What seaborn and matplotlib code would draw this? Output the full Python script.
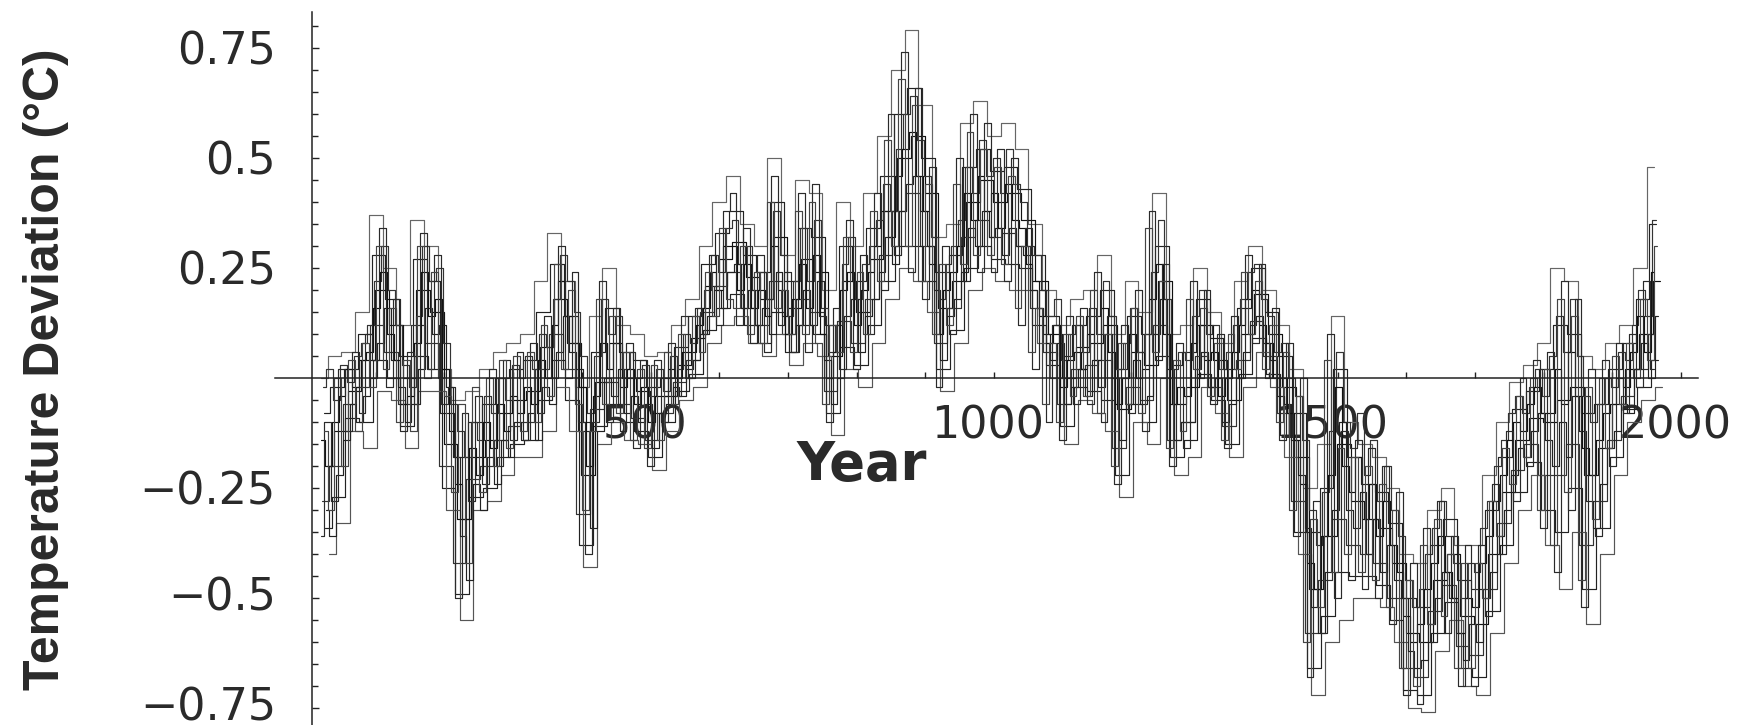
import pandas as pd
import matplotlib.pyplot as plt
import matplotlib.transforms as mtrans
import seaborn as sns

# Values: six traces with a reading every 20 years
years = list(range(20, 1961, 20))

recon_a = [0.00, 0.05, 0.06, 0.15, 0.37, 0.25, 0.12, 0.36, 0.30, 0.02,
           -0.05, -0.03, 0.02, 0.06, 0.08, 0.10, 0.22, 0.33, 0.22, -0.02,
           0.14, 0.25, 0.12, 0.10, 0.05, 0.06, 0.12, 0.18, 0.30, 0.40,
           0.46, 0.35, 0.30, 0.50, 0.28, 0.45, 0.42, 0.20, 0.40, 0.30,
           0.42, 0.55, 0.70, 0.79, 0.62, 0.32, 0.35, 0.58, 0.63, 0.55,
           0.58, 0.52, 0.35, 0.20, 0.12, 0.18, 0.20, 0.28, 0.10, 0.22,
           0.15, 0.42, 0.10, 0.12, 0.25, 0.15, 0.08, 0.22, 0.30, 0.20,
           0.12, 0.02, -0.25, -0.15, 0.14, -0.10, -0.15, -0.18, -0.25, -0.40,
           -0.42, -0.30, -0.25, -0.38, -0.38, -0.22, -0.10, -0.01, 0.03, 0.08,
           0.25, 0.22, 0.05, 0.02, 0.08, 0.12, 0.25, 0.48]
recon_b = [-0.08, -0.02, 0.02, 0.10, 0.28, 0.18, 0.05, 0.27, 0.22, -0.08,
           -0.18, -0.10, -0.06, 0.00, 0.02, 0.04, 0.15, 0.26, 0.14, -0.12,
           0.06, 0.16, 0.06, 0.04, -0.02, 0.00, 0.07, 0.14, 0.26, 0.33,
           0.38, 0.28, 0.24, 0.40, 0.22, 0.34, 0.32, 0.12, 0.30, 0.22,
           0.34, 0.46, 0.60, 0.66, 0.50, 0.24, 0.28, 0.48, 0.52, 0.47,
           0.48, 0.43, 0.28, 0.14, 0.05, 0.12, 0.14, 0.20, 0.02, 0.14,
           0.10, 0.30, 0.03, 0.06, 0.18, 0.09, 0.02, 0.16, 0.25, 0.15,
           0.05, -0.08, -0.35, -0.25, 0.02, -0.18, -0.24, -0.26, -0.33, -0.50,
           -0.52, -0.38, -0.32, -0.46, -0.48, -0.30, -0.18, -0.07, -0.03, 0.02,
           0.12, 0.10, -0.08, -0.06, 0.02, 0.08, 0.18, 0.35]
recon_c = [-0.20, -0.12, -0.03, 0.04, 0.20, 0.12, 0.00, 0.20, 0.15, -0.15,
           -0.32, -0.18, -0.14, -0.08, -0.05, -0.03, 0.07, 0.18, 0.08, -0.22,
           -0.01, 0.08, 0.00, -0.03, -0.08, -0.04, 0.03, 0.09, 0.21, 0.27,
           0.31, 0.23, 0.18, 0.32, 0.16, 0.27, 0.24, 0.05, 0.22, 0.15,
           0.27, 0.38, 0.50, 0.55, 0.42, 0.16, 0.22, 0.40, 0.45, 0.40,
           0.42, 0.36, 0.22, 0.10, 0.00, 0.07, 0.08, 0.12, -0.07, 0.06,
           0.03, 0.22, -0.06, -0.02, 0.12, 0.04, -0.05, 0.10, 0.19, 0.10,
           -0.02, -0.18, -0.48, -0.36, -0.15, -0.28, -0.32, -0.34, -0.42, -0.58,
           -0.60, -0.46, -0.40, -0.54, -0.56, -0.40, -0.26, -0.14, -0.09, -0.10,
           -0.05, -0.02, -0.22, -0.16, -0.06, 0.02, 0.10, 0.22]
recon_d = [-0.28, -0.20, -0.06, -0.02, 0.12, 0.06, -0.06, 0.12, 0.08, -0.20,
           -0.42, -0.23, -0.20, -0.14, -0.11, -0.10, 0.02, 0.10, 0.02, -0.31,
           -0.07, -0.01, -0.06, -0.09, -0.14, -0.08, -0.01, 0.04, 0.15, 0.21,
           0.24, 0.16, 0.12, 0.22, 0.10, 0.18, 0.15, -0.03, 0.13, 0.08,
           0.18, 0.28, 0.38, 0.42, 0.30, 0.08, 0.16, 0.32, 0.36, 0.32,
           0.33, 0.30, 0.16, 0.06, -0.06, 0.02, 0.03, 0.04, -0.16, -0.02,
           -0.05, 0.12, -0.14, -0.10, 0.05, -0.02, -0.11, 0.04, 0.13, 0.05,
           -0.08, -0.28, -0.58, -0.46, -0.32, -0.38, -0.40, -0.42, -0.50, -0.66,
           -0.68, -0.53, -0.47, -0.61, -0.63, -0.48, -0.33, -0.21, -0.15, -0.22,
           -0.22, -0.15, -0.38, -0.28, -0.14, -0.04, 0.02, 0.10]
recon_e = [-0.34, -0.27, -0.09, -0.10, 0.04, 0.00, -0.11, 0.05, 0.02, -0.25,
           -0.49, -0.27, -0.25, -0.18, -0.15, -0.14, -0.05, 0.04, -0.05, -0.38,
           -0.11, -0.06, -0.10, -0.12, -0.18, -0.10, -0.03, 0.01, 0.11, 0.16,
           0.19, 0.12, 0.08, 0.15, 0.06, 0.12, 0.10, -0.08, 0.07, 0.03,
           0.12, 0.22, 0.30, 0.30, 0.22, 0.02, 0.11, 0.25, 0.30, 0.27,
           0.26, 0.25, 0.12, 0.03, -0.11, -0.02, -0.03, -0.05, -0.22, -0.06,
           -0.10, 0.05, -0.18, -0.14, 0.01, -0.05, -0.15, 0.01, 0.09, 0.01,
           -0.13, -0.35, -0.66, -0.54, -0.44, -0.45, -0.45, -0.47, -0.55, -0.71,
           -0.72, -0.58, -0.51, -0.66, -0.68, -0.53, -0.38, -0.26, -0.19, -0.30,
           -0.35, -0.25, -0.48, -0.34, -0.18, -0.07, -0.02, 0.04]
recon_f = [-0.40, -0.33, -0.12, -0.16, -0.03, -0.05, -0.16, -0.03, -0.03, -0.30,
           -0.55, -0.30, -0.28, -0.22, -0.18, -0.18, -0.12, -0.02, -0.12, -0.43,
           -0.15, -0.10, -0.14, -0.15, -0.21, -0.12, -0.05, -0.02, 0.08, 0.12,
           0.14, 0.08, 0.05, 0.10, 0.03, 0.08, 0.05, -0.13, 0.02, -0.02,
           0.08, 0.18, 0.25, 0.22, 0.15, -0.03, 0.08, 0.20, 0.25, 0.22,
           0.20, 0.20, 0.08, 0.00, -0.15, -0.05, -0.08, -0.12, -0.27, -0.10,
           -0.15, 0.00, -0.22, -0.18, -0.02, -0.08, -0.18, -0.02, 0.06, -0.02,
           -0.18, -0.40, -0.72, -0.60, -0.55, -0.50, -0.50, -0.52, -0.60, -0.75,
           -0.76, -0.62, -0.55, -0.70, -0.72, -0.58, -0.42, -0.30, -0.22, -0.38,
           -0.48, -0.35, -0.56, -0.40, -0.22, -0.10, -0.05, -0.02]

# Finer traces, a reading every 10 years
years_fine = list(range(20, 1961, 10))

recon_g = [-0.02, 0.02, -0.05, 0.03, -0.01, 0.05, 0.08, 0.12, 0.22, 0.30,
           0.20, 0.12, 0.03, -0.02, 0.14, 0.30, 0.22, 0.25, 0.08, -0.06,
           -0.12, -0.18, -0.10, -0.14, -0.04, -0.08, 0.00, -0.05, 0.03, 0.00,
           0.05, 0.02, 0.10, 0.07, 0.18, 0.28, 0.22, 0.15, 0.05, -0.08,
           0.05, 0.18, 0.10, 0.14, 0.02, 0.06, 0.00, 0.03, -0.04, 0.02,
           -0.03, 0.05, 0.02, 0.10, 0.08, 0.16, 0.20, 0.28, 0.24, 0.34,
           0.36, 0.26, 0.30, 0.20, 0.24, 0.18, 0.38, 0.28, 0.14, 0.22,
           0.34, 0.22, 0.36, 0.16, 0.06, 0.12, 0.26, 0.32, 0.18, 0.26,
           0.30, 0.36, 0.44, 0.38, 0.52, 0.60, 0.64, 0.54, 0.46, 0.32,
           0.18, 0.26, 0.30, 0.36, 0.48, 0.42, 0.54, 0.46, 0.50, 0.42,
           0.52, 0.44, 0.40, 0.30, 0.28, 0.20, 0.14, 0.18, 0.04, 0.10,
           0.12, 0.06, 0.16, 0.10, 0.22, 0.14, 0.02, 0.08, 0.16, 0.06,
           0.10, 0.24, 0.36, 0.18, 0.02, 0.06, 0.04, 0.14, 0.20, 0.10,
           0.12, 0.02, 0.06, 0.12, 0.18, 0.24, 0.26, 0.18, 0.14, 0.06,
           0.08, 0.00, -0.04, -0.14, -0.30, -0.38, -0.26, -0.12, 0.06, -0.10,
           -0.16, -0.08, -0.22, -0.14, -0.28, -0.20, -0.30, -0.36, -0.46, -0.52,
           -0.48, -0.40, -0.34, -0.28, -0.36, -0.42, -0.50, -0.42, -0.44, -0.34,
           -0.28, -0.20, -0.14, -0.08, -0.04, -0.08, -0.02, 0.02, -0.04, 0.05,
           0.14, 0.06, 0.18, 0.05, -0.04, -0.10, -0.06, 0.00, -0.02, 0.06,
           0.04, 0.12, 0.20, 0.14, 0.36]
recon_h = [-0.30, -0.36, -0.22, -0.14, -0.06, -0.10, -0.04, 0.00, 0.08, 0.16,
           0.04, -0.02, -0.10, -0.06, 0.02, 0.16, 0.10, 0.12, -0.02, -0.18,
           -0.36, -0.46, -0.24, -0.30, -0.18, -0.24, -0.14, -0.18, -0.10, -0.14,
           -0.08, -0.14, -0.02, -0.06, 0.06, 0.14, 0.06, 0.02, -0.10, -0.34,
           -0.12, 0.00, -0.04, 0.02, -0.08, -0.04, -0.10, -0.06, -0.16, -0.08,
           -0.06, -0.02, -0.04, 0.02, 0.04, 0.10, 0.14, 0.20, 0.16, 0.24,
           0.26, 0.16, 0.20, 0.12, 0.16, 0.10, 0.24, 0.14, 0.06, 0.12,
           0.20, 0.12, 0.22, 0.04, -0.06, 0.00, 0.14, 0.18, 0.06, 0.14,
           0.18, 0.24, 0.32, 0.26, 0.38, 0.44, 0.46, 0.38, 0.30, 0.20,
           0.04, 0.14, 0.18, 0.24, 0.34, 0.30, 0.38, 0.32, 0.34, 0.28,
           0.34, 0.30, 0.28, 0.20, 0.16, 0.10, 0.04, 0.08, -0.06, -0.02,
           0.02, -0.04, 0.04, -0.02, 0.10, 0.00, -0.14, -0.06, 0.04, -0.06,
           -0.04, 0.10, 0.18, 0.02, -0.14, -0.10, -0.10, 0.02, 0.06, -0.02,
           0.00, -0.10, -0.06, 0.00, 0.06, 0.12, 0.14, 0.08, 0.04, -0.04,
           -0.06, -0.14, -0.22, -0.34, -0.52, -0.58, -0.44, -0.30, -0.10, -0.30,
           -0.34, -0.26, -0.40, -0.32, -0.44, -0.38, -0.46, -0.50, -0.62, -0.66,
           -0.64, -0.56, -0.50, -0.44, -0.50, -0.58, -0.64, -0.56, -0.60, -0.50,
           -0.44, -0.36, -0.30, -0.22, -0.16, -0.18, -0.12, -0.08, -0.14, -0.20,
           -0.10, -0.18, -0.04, -0.12, -0.28, -0.34, -0.24, -0.16, -0.12, -0.06,
           -0.08, 0.02, 0.08, 0.00, 0.14]
recon_i = [-0.14, -0.20, -0.10, -0.04, 0.02, -0.02, 0.04, 0.06, 0.16, 0.24,
           0.10, 0.04, -0.06, -0.04, 0.08, 0.24, 0.14, 0.18, 0.02, -0.12,
           -0.24, -0.32, -0.16, -0.22, -0.10, -0.16, -0.06, -0.12, -0.04, -0.08,
           -0.02, -0.06, 0.04, 0.00, 0.12, 0.22, 0.14, 0.08, -0.02, -0.20,
           -0.04, 0.08, 0.02, 0.08, -0.02, 0.02, -0.06, -0.02, -0.10, -0.04,
           -0.04, 0.02, 0.00, 0.06, 0.06, 0.12, 0.16, 0.24, 0.20, 0.30,
           0.30, 0.20, 0.26, 0.16, 0.20, 0.14, 0.30, 0.20, 0.10, 0.18,
           0.26, 0.16, 0.28, 0.10, 0.00, 0.06, 0.20, 0.24, 0.12, 0.20,
           0.24, 0.30, 0.38, 0.32, 0.46, 0.52, 0.56, 0.46, 0.38, 0.26,
           0.10, 0.20, 0.24, 0.30, 0.42, 0.36, 0.46, 0.38, 0.42, 0.34,
           0.44, 0.36, 0.34, 0.26, 0.22, 0.14, 0.08, 0.12, -0.02, 0.04,
           0.06, 0.02, 0.10, 0.04, 0.16, 0.06, -0.06, 0.00, 0.10, 0.00,
           0.02, 0.18, 0.26, 0.10, -0.06, -0.02, -0.04, 0.08, 0.12, 0.04,
           0.06, -0.04, 0.00, 0.06, 0.12, 0.18, 0.20, 0.12, 0.08, 0.00,
           0.00, -0.08, -0.14, -0.24, -0.42, -0.48, -0.36, -0.22, -0.02, -0.20,
           -0.26, -0.18, -0.32, -0.24, -0.36, -0.28, -0.38, -0.44, -0.54, -0.60,
           -0.56, -0.48, -0.42, -0.36, -0.44, -0.50, -0.58, -0.50, -0.52, -0.42,
           -0.36, -0.28, -0.22, -0.14, -0.10, -0.12, -0.06, -0.02, -0.08, -0.08,
           0.02, -0.06, 0.06, -0.04, -0.16, -0.22, -0.14, -0.08, -0.06, 0.00,
           -0.02, 0.06, 0.14, 0.06, 0.24]
recon_j = [-0.36, -0.10, -0.28, 0.02, -0.12, 0.06, -0.08, 0.10, 0.04, 0.34,
           -0.02, 0.18, -0.12, 0.06, -0.06, 0.33, 0.02, 0.28, -0.06, -0.02,
           -0.50, -0.08, -0.28, -0.04, -0.24, 0.02, -0.20, 0.04, -0.14, 0.06,
           -0.14, 0.08, -0.08, 0.14, 0.00, 0.30, 0.00, 0.24, -0.10, -0.40,
           -0.10, 0.22, -0.10, 0.16, -0.12, 0.08, -0.16, 0.04, -0.20, 0.04,
           -0.10, 0.08, -0.04, 0.14, 0.00, 0.16, 0.10, 0.28, 0.12, 0.38,
           0.42, 0.12, 0.34, 0.08, 0.28, 0.06, 0.46, 0.12, 0.24, 0.06,
           0.42, 0.06, 0.44, 0.14, -0.10, 0.16, 0.02, 0.36, 0.02, 0.28,
           0.10, 0.42, 0.20, 0.60, 0.28, 0.74, 0.24, 0.66, 0.18, 0.48,
           -0.02, 0.30, 0.10, 0.50, 0.22, 0.60, 0.24, 0.58, 0.24, 0.52,
           0.22, 0.50, 0.12, 0.34, 0.02, 0.20, -0.10, 0.12, -0.14, 0.14,
           -0.06, 0.16, -0.06, 0.24, -0.10, 0.14, -0.24, 0.12, -0.08, 0.20,
           -0.12, 0.38, 0.04, 0.26, -0.20, 0.08, -0.16, 0.22, 0.00, 0.20,
           -0.06, 0.10, -0.16, 0.14, 0.00, 0.28, 0.08, 0.26, 0.00, 0.16,
           -0.14, 0.08, -0.36, 0.00, -0.68, -0.28, -0.58, 0.10, -0.50, -0.12,
           -0.46, -0.14, -0.48, -0.16, -0.50, -0.20, -0.56, -0.26, -0.72, -0.42,
           -0.74, -0.34, -0.60, -0.28, -0.58, -0.36, -0.70, -0.38, -0.70, -0.38,
           -0.54, -0.24, -0.40, -0.12, -0.28, 0.00, -0.20, 0.04, -0.34, 0.06,
           -0.44, 0.22, -0.30, 0.18, -0.52, 0.02, -0.36, 0.04, -0.20, 0.08,
           -0.08, 0.10, -0.02, 0.22, 0.02]
recon_k = [-0.12, -0.30, 0.00, -0.20, 0.04, -0.12, 0.08, -0.02, 0.30, 0.02,
           0.16, -0.10, 0.04, -0.12, 0.30, 0.00, 0.24, 0.00, -0.04, -0.26,
           -0.06, -0.42, -0.02, -0.26, 0.00, -0.20, 0.04, -0.16, 0.05, -0.12,
           0.06, -0.10, 0.12, -0.04, 0.26, 0.02, 0.20, -0.06, -0.30, -0.12,
           0.18, -0.06, 0.14, -0.08, 0.06, -0.14, 0.02, -0.16, 0.03, -0.14,
           0.06, -0.06, 0.10, 0.00, 0.14, 0.06, 0.24, 0.14, 0.34, 0.18,
           0.16, 0.30, 0.10, 0.24, 0.08, 0.40, 0.16, 0.20, 0.10, 0.38,
           0.10, 0.40, 0.08, -0.06, 0.12, 0.06, 0.32, 0.06, 0.24, 0.10,
           0.38, 0.22, 0.54, 0.30, 0.68, 0.30, 0.62, 0.22, 0.44, 0.10,
           0.26, 0.12, 0.44, 0.26, 0.56, 0.28, 0.52, 0.28, 0.48, 0.26,
           0.46, 0.16, 0.30, 0.06, 0.16, -0.06, 0.08, -0.10, 0.10, -0.04,
           0.14, -0.04, 0.20, -0.08, 0.10, -0.20, 0.08, -0.06, 0.16, -0.08,
           0.34, 0.06, 0.22, -0.16, 0.04, -0.12, 0.18, 0.02, 0.16, -0.04,
           0.08, -0.14, 0.10, 0.02, 0.24, 0.10, 0.22, 0.02, 0.12, -0.10,
           0.06, -0.30, -0.04, -0.60, -0.32, -0.52, 0.04, -0.44, -0.16, -0.40,
           -0.18, -0.44, -0.20, -0.46, -0.24, -0.52, -0.30, -0.66, -0.46, -0.70,
           -0.38, -0.56, -0.32, -0.54, -0.40, -0.66, -0.42, -0.66, -0.42, -0.50,
           -0.28, -0.36, -0.16, -0.24, -0.04, -0.18, 0.00, -0.30, 0.02, -0.38,
           0.18, -0.26, 0.14, -0.46, -0.02, -0.32, 0.00, -0.16, 0.05, -0.06,
           0.08, 0.00, 0.18, 0.04, 0.30]

coarse = {'a': recon_a, 'b': recon_b, 'c': recon_c, 'd': recon_d, 'e': recon_e, 'f': recon_f}
fine = {'g': recon_g, 'h': recon_h, 'i': recon_i, 'j': recon_j, 'k': recon_k}
lags = {'a': 0, 'b': 4, 'c': 9, 'd': 2, 'e': 6, 'f': 12, 'g': 3, 'h': 7, 'i': 1, 'j': 0, 'k': 5}
colors = {'a': '#666666', 'b': '#222222', 'c': '#111111', 'd': '#333333', 'e': '#222222', 'f': '#555555',
          'g': '#333333', 'h': '#222222', 'i': '#111111', 'j': '#2a2a2a', 'k': '#444444'}

y_ticks = [-0.75, -0.5, -0.25, 0.25, 0.5, 0.75]
y_tick_labels = ['\u22120.75', '\u22120.5', '\u22120.25', '0.25', '0.5', '0.75']
x_ticks = [500, 1000, 1500, 2000]
x_tick_labels = ['500', '1000', '1500', '2000']

rows = []
for name, vals in coarse.items():
    for yr, v in zip(years, vals):
        rows.append({'year': yr + lags[name], 'dev': v, 'recon': name})
for name, vals in fine.items():
    for yr, v in zip(years_fine, vals):
        rows.append({'year': yr + lags[name], 'dev': v, 'recon': name})
df = pd.DataFrame(rows)

sns.set_theme(style='white')
plt.rcParams['font.family'] = ['DejaVu Sans']

fig = plt.figure(figsize=(17.39, 7.25), dpi=100)
ax = fig.add_axes([0, 0, 1, 1])

sns.lineplot(data=df, x='year', y='dev', hue='recon', palette=colors, estimator=None,
             drawstyle='steps-mid', linewidth=0.85, legend=False, ax=ax)

ax.set_xlim(-446.9, 2084.4)
ax.set_ylim(-0.7886, 0.859)
ax.set_xlabel('')
ax.set_ylabel('')
ax.patch.set_visible(False)

for side in ['top', 'right']:
    ax.spines[side].set_visible(False)
ax.spines['left'].set_position(('data', 7.3))
ax.spines['left'].set_bounds(-0.7886, 0.832)
ax.spines['bottom'].set_position(('data', 0))
ax.spines['bottom'].set_bounds(-46.6, 2025)
for side in ['left', 'bottom']:
    ax.spines[side].set_linewidth(1.1)
    ax.spines[side].set_color('#222222')

ax.set_yticks(y_ticks, y_tick_labels)
ax.set_yticks([i * 0.05 for i in range(-15, 17) if i != 0], minor=True)
ax.set_xticks(x_ticks, x_tick_labels)
ax.set_xticks(range(100, 2001, 100), minor=True)
ax.tick_params(axis='y', which='major', direction='in', length=5, width=1, color='#222222',
               labelsize=32, labelcolor='#2a2a2a', pad=26, left=True)
ax.tick_params(axis='y', which='minor', direction='in', length=4, width=1, color='#222222', left=True)
ax.tick_params(axis='x', which='both', direction='in', length=4, width=1, color='#222222', bottom=True)
ax.tick_params(axis='x', which='major', labelsize=32, labelcolor='#2a2a2a', pad=19)

shift_left = mtrans.ScaledTranslation(-6 / 100, 0, fig.dpi_scale_trans)
for lab in ax.get_xticklabels():
    lab.set_transform(lab.get_transform() + shift_left)

# the two lowest labels sit a little above their ticks
shift_up = mtrans.ScaledTranslation(0, 5 / 100, fig.dpi_scale_trans)
for lab in ax.get_yticklabels()[:2]:
    lab.set_transform(lab.get_transform() + shift_up)

fig.text(862 / 1739, 1 - 480 / 725, 'Year', fontsize=38, fontweight='bold', color='#2a2a2a',
         ha='center', va='baseline')
fig.text(46 / 1739, 1 - 369 / 725, 'Temperature Deviation (\u00b0C)', fontsize=36, fontweight='bold',
         family='Liberation Sans', color='#2a2a2a', rotation=90, ha='center', va='center')

fig.savefig('out.png', dpi=100)
